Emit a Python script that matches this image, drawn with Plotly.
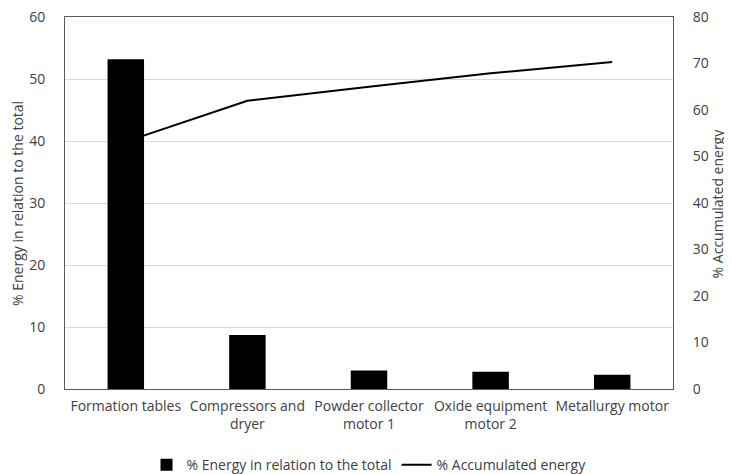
import plotly.graph_objects as go

categories = ["Formation tables", "Compressors and<br>dryer", "Powder collector<br>motor 1",
              "Oxide equipment<br>motor 2", "Metallurgy motor"]
energy_share = [53.2, 8.7, 3.0, 2.8, 2.3]
accumulated = [53.2, 62.0, 65.0, 67.9, 70.3]

font_family = "Open Sans, Liberation Sans, sans-serif"
axis_color = "#595959"
clear = "rgba(0,0,0,0)"

bars = go.Bar(
    x=categories,
    y=energy_share,
    name="% Energy in relation to the total",
    marker=dict(color="black", line=dict(width=0)),
    width=0.3,
)

line = go.Scatter(
    x=categories,
    y=accumulated,
    name="% Accumulated energy",
    mode="lines",
    line=dict(color="black", width=2),
    yaxis="y2",
)

# the page body keeps its default 8px margin, so the figure is 8px smaller
fig = go.Figure(data=[bars, line])
fig.update_layout(
    width=724, height=466,
    margin=dict(l=57, r=59, t=9, b=85, autoexpand=False),
    plot_bgcolor="white", paper_bgcolor="white",
    font=dict(family=font_family, size=14, color="#404040"),
    showlegend=True,
    legend=dict(orientation="h", x=0.5, xanchor="center", y=-0.205, yanchor="middle",
                font=dict(size=14, color="#404040")),
    xaxis=dict(showline=True, linecolor=axis_color, linewidth=1, mirror=True,
               showgrid=False, tickfont=dict(size=14), ticks="outside", ticklen=4,
               tickcolor=clear, automargin=False),
    yaxis=dict(range=[0, 60], dtick=10, showgrid=True, gridcolor="#d9d9d9",
               showline=True, linecolor=axis_color, linewidth=1, mirror=True,
               zeroline=False, ticks="outside", ticklen=16, tickcolor=clear,
               automargin=False, tickfont=dict(size=14), ticklabeloverflow="allow"),
    yaxis2=dict(range=[0, 80], dtick=10, overlaying="y", side="right", showgrid=False,
                showline=True, linecolor=axis_color, linewidth=1, zeroline=False,
                ticks="outside", ticklen=16, tickcolor=clear, automargin=False,
                tickfont=dict(size=14), ticklabeloverflow="allow"),
    annotations=[
        dict(text="% Energy in relation to the total", xref="paper", yref="paper",
             x=-0.079, y=0.5, textangle=-90, showarrow=False, font=dict(size=14),
             xanchor="center", yanchor="middle"),
        dict(text="% Accumulated energy", xref="paper", yref="paper",
             x=1.073, y=0.5, textangle=-90, showarrow=False, font=dict(size=14),
             xanchor="center", yanchor="middle"),
    ],
)

fig.write_html("out.html")
